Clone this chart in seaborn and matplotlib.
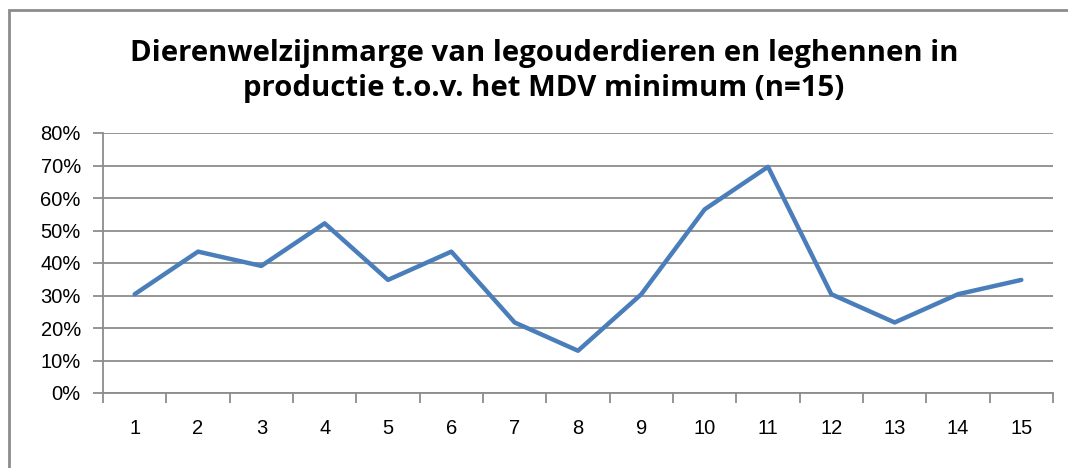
import matplotlib
matplotlib.use("Agg")
import matplotlib.pyplot as plt
import matplotlib.patches as patches
import pandas as pd
import seaborn as sns
from matplotlib.ticker import PercentFormatter

sns.set_theme(style="white")
plt.rcParams['font.family'] = ['Liberation Sans', 'DejaVu Sans']

# Chart data
categories = [str(i) for i in range(1, 16)]
margin = [0.304, 0.435, 0.391, 0.522, 0.348, 0.435, 0.217, 0.130,
          0.304, 0.565, 0.696, 0.304, 0.217, 0.304, 0.348]
y_ticks = [0.0, 0.1, 0.2, 0.3, 0.4, 0.5, 0.6, 0.7, 0.8]
title = 'Dierenwelzijnmarge van legouderdieren en leghennen in\nproductie t.o.v. het MDV minimum (n=15)'

df = pd.DataFrame({'Bedrijf': range(len(categories)), 'Marge': margin})

fig = plt.figure(figsize=(10.68, 4.68), dpi=100)
ax = fig.add_axes([103 / 1068, 1 - 393 / 468, (1053 - 103) / 1068, (393 - 133) / 468])

grid_col = '#8c8c8c'
sns.lineplot(x='Bedrijf', y='Marge', data=df, ax=ax, color='#4a7ebb', linewidth=3.2)

ax.set_xlim(-0.5, len(categories) - 0.5)
ax.set_ylim(0, 0.8)
ax.set_yticks(y_ticks)
ax.yaxis.set_major_formatter(PercentFormatter(1.0, decimals=0))
ax.set_xticks(range(len(categories)))
ax.set_xticklabels(categories)
ax.set_xticks([i - 0.5 for i in range(len(categories) + 1)], minor=True)
ax.tick_params(axis='x', which='major', length=0, pad=19, labelsize=14.5, labelcolor='black')
ax.tick_params(axis='x', which='minor', length=7, width=1.3, color=grid_col, direction='out', bottom=True)
ax.tick_params(axis='y', which='major', length=7, width=1.3, color=grid_col, direction='out',
               left=True, pad=9, labelsize=14.5, labelcolor='black')
ax.set_xlabel('')
ax.set_ylabel('')

ax.yaxis.grid(True, color=grid_col, linewidth=1.3)
ax.set_axisbelow(True)
for side in ['top', 'right']:
    ax.spines[side].set_visible(False)
for side in ['left', 'bottom']:
    ax.spines[side].set_color(grid_col)
    ax.spines[side].set_linewidth(1.3)

fig.text(544 / 1068, 1 - 71 / 468, title, ha='center', va='center', fontsize=21.2,
         fontweight='bold', linespacing=1.3, color='black',
         family=['Open Sans', 'DejaVu Sans'])

# outer chart border
fig.patches.append(patches.Rectangle((9 / 1068, -0.05), 1.1, 1 - 10 / 468 + 0.05,
                                     transform=fig.transFigure, fill=False,
                                     edgecolor='#8c8c8c', linewidth=2))

plt.savefig('out.png', dpi=100)
